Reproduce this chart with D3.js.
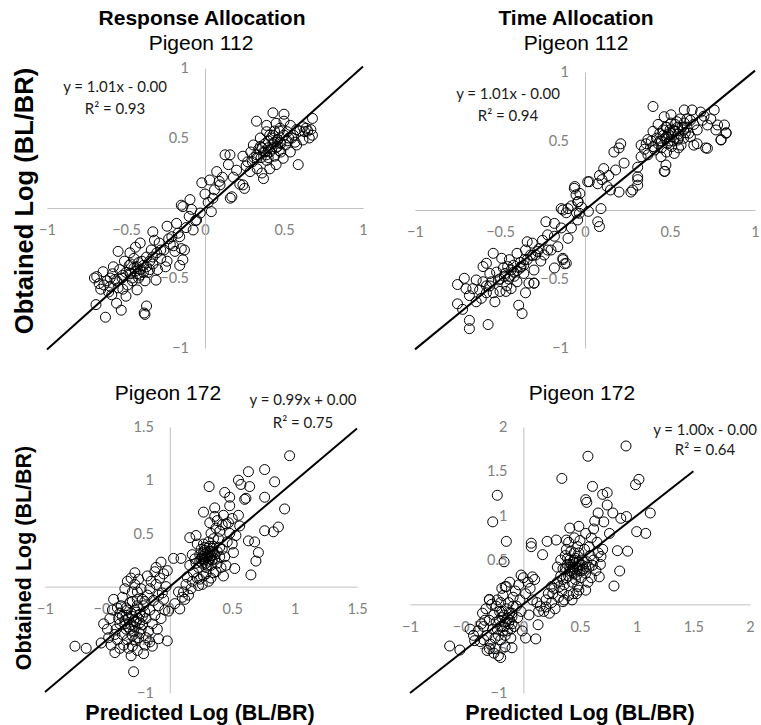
<!DOCTYPE html>
<html>
<head>
<meta charset="utf-8">
<script src="https://cdn.jsdelivr.net/npm/d3@7"></script>
<style>
  body { margin: 0; background: #fff; }
  .tick text { font-family: Lato, "Open Sans", sans-serif; font-size: 14.5px; fill: #808080; }
  .eq { font-family: Lato, "Open Sans", sans-serif; font-size: 15px; fill: #1a1a1a; }
  .title { font-family: "Liberation Sans", Arial, sans-serif; font-size: 21px; fill: #000; }
</style>
</head>
<body>
<div id="chart"></div>
<script>
var svgWidth = 761;
var svgHeight = 725;

// ---- data: [predicted, obtained] ----
var resp112 = [
  [-0.70,-0.50],[-0.69,-0.69],[-0.685,-0.49],[-0.67,-0.54],[-0.66,-0.58],[-0.645,-0.455],[-0.63,-0.78],[-0.62,-0.52],
  [-0.61,-0.60],[-0.60,-0.56],[-0.59,-0.62],[-0.585,-0.47],[-0.57,-0.51],[-0.56,-0.68],[-0.55,-0.31],[-0.55,-0.57],
  [-0.54,-0.44],[-0.53,-0.73],[-0.525,-0.50],[-0.51,-0.38],[-0.50,-0.63],[-0.50,-0.46],[-0.49,-0.55],[-0.48,-0.41],
  [-0.475,-0.32],[-0.475,-0.465],[-0.46,-0.52],[-0.45,-0.36],[-0.44,-0.28],[-0.44,-0.45],[-0.43,-0.585],[-0.43,-0.42],
  [-0.42,-0.50],[-0.41,-0.25],[-0.41,-0.48],[-0.40,-0.38],[-0.39,-0.41],[-0.385,-0.75],[-0.38,-0.76],[-0.37,-0.70],
  [-0.37,-0.35],[-0.36,-0.46],[-0.35,-0.44],[-0.34,-0.30],[-0.33,-0.17],[-0.33,-0.40],[-0.32,-0.23],[-0.31,-0.515],
  [-0.305,-0.32],[-0.30,-0.44],[-0.29,-0.25],[-0.28,-0.36],[-0.26,-0.30],[-0.25,-0.42],[-0.24,-0.13],[-0.24,-0.38],
  [-0.23,-0.22],[-0.21,-0.205],[-0.20,-0.27],[-0.19,-0.31],[-0.18,-0.11],[-0.17,-0.18],[-0.16,-0.205],[-0.16,-0.41],
  [-0.15,-0.29],[-0.14,-0.37],[-0.14,0.01],[-0.13,-0.30],[-0.12,-0.14],[-0.10,-0.06],[-0.095,0.06],[-0.085,-0.01],
  [-0.075,-0.157],[-0.06,-0.09],[-0.053,-0.086],[-0.03,-0.036],[-0.15,0.02],[-0.58,-0.42],[-0.52,-0.58],[-0.47,-0.40],
  [-0.47,-0.47],[-0.45,-0.43],[-0.43,-0.47],[-0.41,-0.44],[-0.39,-0.46],[-0.37,-0.42],[-0.35,-0.38],[-0.42,-0.39],
  [-0.46,-0.50],[-0.52,-0.48],[-0.56,-0.52],[-0.60,-0.50],[-0.64,-0.55],[-0.38,-0.52],[-0.33,-0.35],[-0.28,-0.30],
  [-0.22,-0.26],
  [-0.02,0.18],[0.00,0.10],[0.02,0.04],[0.03,0.20],[0.04,-0.026],[0.05,0.07],[0.06,0.13],[0.074,0.26],[0.09,0.19],
  [0.095,0.165],[0.11,0.22],[0.127,0.38],[0.148,0.31],[0.158,0.38],[0.16,0.07],[0.17,0.08],[0.18,0.22],[0.20,0.27],
  [0.22,0.17],[0.24,0.165],[0.24,0.37],[0.25,0.14],[0.26,0.30],[0.27,0.33],[0.285,0.26],[0.29,0.40],[0.30,0.33],
  [0.306,0.45],[0.31,0.36],[0.326,0.62],[0.327,0.38],[0.33,0.28],[0.34,0.42],[0.35,0.50],[0.355,0.36],[0.36,0.25],
  [0.37,0.21],[0.37,0.40],[0.38,0.46],[0.39,0.545],[0.39,0.34],[0.39,0.59],[0.40,0.43],[0.41,0.28],[0.41,0.40],
  [0.42,0.50],[0.43,0.52],[0.43,0.68],[0.43,0.46],[0.44,0.37],[0.45,0.31],[0.45,0.43],[0.45,0.605],[0.46,0.49],
  [0.475,0.57],[0.475,0.47],[0.48,0.40],[0.495,0.355],[0.50,0.62],[0.50,0.67],[0.51,0.45],[0.52,0.545],[0.53,0.50],
  [0.54,0.40],[0.54,0.59],[0.56,0.52],[0.57,0.47],[0.58,0.45],[0.59,0.31],[0.60,0.55],[0.62,0.486],[0.63,0.545],
  [0.64,0.57],[0.66,0.50],[0.67,0.56],[0.68,0.64],[0.68,0.52],[0.35,0.44],[0.40,0.36],[0.47,0.41],
  [0.38,0.40],[0.40,0.48],[0.42,0.42],[0.44,0.47],[0.46,0.44],[0.48,0.46],[0.41,0.52],[0.36,0.43],[0.33,0.36],
  [0.50,0.52],[0.52,0.48],[0.55,0.50],[0.47,0.55],[0.44,0.55],[0.39,0.38],[0.58,0.56],[0.62,0.58],[0.65,0.55]
];

var time112 = [
  [0.40,0.75],[-0.68,-0.80],[-0.68,-0.86],[-0.57,-0.83],[-0.39,-0.69],[-0.37,-0.75],[-0.75,-0.68],[-0.72,-0.72],
  [0.075,-0.085],[0.085,-0.12],[0.094,0.01],[-0.23,-0.085],[-0.18,-0.19],[-0.13,-0.36],[-0.12,-0.39],[-0.18,-0.42],
  [-0.30,-0.53],[0.21,0.48],[0.20,0.45],[0.80,0.51],[0.83,0.56],[0.71,0.45],[0.64,0.47],[0.47,0.28],[0.31,0.22],
  [0.27,0.13],[0.20,0.13],[0.025,0.205],[-0.06,0.17],[-0.04,0.06],[-0.14,0.01],[-0.11,-0.02],
  [0.17,0.42],[0.11,0.30],[0.085,0.25],[0.075,0.19],[0.13,0.17],[0.15,0.145],[0.28,0.145],[0.31,0.18],[0.31,0.24],
  [0.23,0.34],[0.18,0.29],[0.14,0.25],[0.10,0.22],[0.33,0.386],[0.33,0.47],[0.37,0.51],[0.40,0.57],[0.44,0.556],
  [0.476,0.60],[0.506,0.69],[0.584,0.725],[0.63,0.725],[0.68,0.71],[0.76,0.725],[0.72,0.616],[0.78,0.616],
  [0.82,0.616],[0.83,0.556],[0.80,0.507],[0.72,0.447],[0.66,0.48],[0.565,0.47],[0.525,0.41],[0.476,0.326],
  [0.466,0.28],[0.447,0.386],[0.41,0.435],[0.37,0.40],[0.31,0.31],[0.506,0.556],[0.545,0.60],[0.584,0.63],
  [0.545,0.507],[0.486,0.48],[0.43,0.48],[0.61,0.556],[0.66,0.58],[0.69,0.65],[0.466,0.676],[0.506,0.63],
  [0.35,0.44],[0.39,0.50],[0.42,0.52],[0.45,0.45],[0.48,0.53],[0.50,0.50],[0.52,0.58],[0.55,0.55],[0.58,0.52],
  [0.60,0.60],[0.62,0.65],[0.56,0.66],[0.53,0.62],[0.46,0.58],[0.43,0.62],[0.40,0.46],[0.36,0.48],[0.48,0.42],
  [0.51,0.46],[0.58,0.58],[0.64,0.62],[0.70,0.68],[0.74,0.66],[0.77,0.58],[0.55,0.45],[0.62,0.53],[0.44,0.50],
  [0.45,0.50],[0.47,0.52],[0.49,0.55],[0.51,0.53],[0.53,0.57],[0.55,0.52],[0.57,0.60],[0.59,0.56],[0.50,0.58],
  [0.46,0.54],[0.52,0.50],[0.54,0.64],[0.60,0.66],[0.48,0.60],
  [-0.063,0.157],[-0.053,0.11],[-0.043,0.06],[0.016,0.205],[-0.13,0.0],[-0.10,0.01],[-0.033,-0.024],[-0.18,-0.097],
  [-0.14,-0.13],[-0.08,-0.13],[-0.043,-0.072],[-0.10,-0.205],[-0.16,-0.266],[-0.20,-0.29],[-0.22,-0.29],[-0.13,-0.35],
  [-0.11,-0.386],[-0.34,-0.23],[-0.31,-0.24],[-0.29,-0.326],[-0.35,-0.29],[-0.40,-0.314],[-0.445,-0.36],[-0.49,-0.35],
  [-0.54,-0.314],[-0.58,-0.386],[-0.60,-0.41],[-0.56,-0.46],[-0.435,-0.435],[-0.376,-0.41],[-0.30,-0.435],
  [-0.30,-0.53],[-0.35,-0.60],[-0.75,-0.54],[-0.71,-0.495],[-0.70,-0.57],[-0.66,-0.57],[-0.64,-0.507],[-0.62,-0.58],
  [-0.58,-0.60],[-0.61,-0.64],[-0.54,-0.60],[-0.50,-0.59],[-0.465,-0.59],[-0.435,-0.57],[-0.51,-0.507],[-0.475,-0.48],
  [-0.416,-0.48],[-0.455,-0.41],[-0.357,-0.36],[-0.24,-0.326],[-0.26,-0.37],[-0.32,-0.326],[-0.33,-0.53],[-0.53,-0.665],
  [-0.64,-0.665],[-0.38,-0.38],[-0.42,-0.45],[-0.48,-0.42],[-0.52,-0.45],[-0.45,-0.50],[-0.40,-0.52],[-0.36,-0.46],
  [-0.27,-0.28],[-0.25,-0.22],[-0.22,-0.18],[-0.05,-0.02],[-0.02,0.02],[0.02,-0.01],[-0.08,0.03],[-0.03,0.12],
  [-0.68,-0.62],[-0.56,-0.55],[-0.60,-0.52],
  [-0.50,-0.50],[-0.47,-0.46],[-0.44,-0.48],[-0.42,-0.40],[-0.40,-0.44],[-0.38,-0.42],[-0.36,-0.40],[-0.34,-0.36],
  [-0.55,-0.52],[-0.58,-0.55],[-0.46,-0.55],[-0.31,-0.33],[-0.28,-0.30]
];

var resp172 = [
  [0.96,1.23],[0.76,1.10],[0.84,0.985],[0.63,1.08],[0.55,1.00],[0.57,0.96],[0.64,0.94],[0.315,0.94],[0.44,0.885],
  [0.48,0.84],[0.60,0.82],[0.61,0.83],[0.76,0.84],[0.48,0.76],[0.92,0.73],[0.36,0.74],[0.43,0.67],[0.55,0.67],
  [0.27,0.70],[0.32,0.60],[0.45,0.59],[0.56,0.57],[0.76,0.525],[0.83,0.515],[0.87,0.56],[0.63,0.43],[0.68,0.42],
  [0.71,0.32],[0.69,0.24],[0.52,0.17],[0.65,0.11],[0.40,0.37],[0.51,0.32],[0.16,0.46],[0.21,0.48],[0.03,0.265],
  [0.09,0.265],[-0.07,0.23],[-0.11,0.18],[-0.28,0.13],[-0.76,-0.56],[-0.67,-0.58],[-0.55,-0.53],[-0.49,-0.48],
  [-0.44,-0.62],[-0.31,-0.65],[-0.29,-0.80],[-0.21,-0.63],[-0.02,-0.51],[-0.09,-0.49],[-0.16,-0.52],[0.08,-0.21],
  [0.04,-0.16],[0.12,-0.12],[-0.01,-0.23],[-0.05,-0.12],[0.11,-0.05],[0.13,0.02],[0.23,0.01],[0.27,0.10],
  [0.35,0.13],[0.19,0.13],[0.20,0.26],
  [0.22,0.40],[0.25,0.35],[0.28,0.30],[0.30,0.28],[0.32,0.33],[0.34,0.25],[0.26,0.22],[0.29,0.18],[0.33,0.20],
  [0.36,0.30],[0.38,0.22],[0.24,0.30],[0.27,0.40],[0.31,0.42],[0.35,0.38],[0.39,0.45],[0.42,0.35],[0.44,0.28],
  [0.46,0.42],[0.48,0.50],[0.50,0.40],[0.53,0.48],[0.40,0.52],[0.37,0.55],[0.33,0.50],[0.30,0.36],[0.28,0.25],
  [0.23,0.18],[0.21,0.22],[0.18,0.30],[0.16,0.20],[0.14,0.09],[0.24,0.07],[0.31,0.05],[0.29,0.12],[0.37,0.14],
  [0.41,0.18],[0.43,0.10],[0.33,0.08],[0.26,0.02],[0.22,0.08],[0.18,0.05],[0.17,-0.02],[0.15,-0.08],[0.10,-0.10],
  [0.07,-0.05],[0.35,0.45],[0.45,0.20],[0.40,0.28],[0.27,0.32],[0.34,0.33],[0.30,0.20],[0.38,0.62],[0.42,0.58],
  [0.47,0.60],[0.50,0.64],[0.36,0.66],
  [0.26,0.28],[0.28,0.34],[0.29,0.27],[0.31,0.30],[0.32,0.26],[0.33,0.29],[0.30,0.32],[0.27,0.26],[0.35,0.32],
  [0.31,0.24],[0.29,0.22],[0.25,0.26],[0.34,0.36],[0.36,0.26],[0.28,0.37],[0.38,0.33],[0.24,0.24],[0.32,0.38],
  [-0.45,-0.12],[-0.42,-0.20],[-0.40,-0.25],[-0.38,-0.10],[-0.36,-0.32],[-0.35,-0.20],[-0.33,-0.38],[-0.32,-0.15],
  [-0.30,-0.28],[-0.30,-0.05],[-0.29,-0.42],[-0.28,-0.22],[-0.27,-0.33],[-0.26,-0.12],[-0.25,-0.48],[-0.24,-0.26],
  [-0.23,-0.02],[-0.22,-0.36],[-0.21,-0.18],[-0.20,-0.55],[-0.19,-0.30],[-0.18,-0.08],[-0.17,-0.42],[-0.16,-0.22],
  [-0.15,0.05],[-0.14,-0.35],[-0.13,-0.13],[-0.12,-0.27],[-0.11,0.02],[-0.10,-0.40],[-0.09,-0.18],[-0.08,0.08],
  [-0.07,-0.30],[-0.06,-0.06],[-0.05,0.12],[-0.04,-0.22],[-0.03,0.00],[-0.02,0.15],[-0.34,0.05],[-0.31,0.08],
  [-0.36,-0.02],[-0.40,-0.35],[-0.43,-0.40],[-0.38,-0.45],[-0.34,-0.50],[-0.30,-0.56],[-0.26,-0.60],[-0.33,-0.58],
  [-0.37,-0.55],[-0.48,-0.30],[-0.46,-0.22],[-0.44,-0.45],[-0.50,-0.40],[-0.53,-0.35],[-0.28,-0.50],[-0.24,-0.44],
  [-0.19,-0.48],[-0.14,-0.56],[-0.22,-0.12],[-0.26,-0.18],[-0.31,-0.36],[-0.35,-0.27],[-0.39,-0.18],[-0.28,0.02],
  [-0.25,0.07],[-0.18,0.10],[-0.12,0.14],[-0.09,-0.08],[-0.16,-0.02],[-0.20,-0.24],[-0.35,-0.40],[-0.42,-0.50],
  [-0.47,-0.55],[-0.40,-0.58],[-0.30,-0.46],
  [-0.33,-0.30],[-0.31,-0.25],[-0.29,-0.32],[-0.27,-0.24],[-0.25,-0.30],[-0.34,-0.22],[-0.32,-0.40],[-0.28,-0.38],
  [-0.24,-0.34],[-0.22,-0.28],[-0.36,-0.35],[-0.30,-0.14],[-0.26,-0.05],[-0.38,-0.28],[-0.41,-0.30],[-0.23,-0.40],
  [-0.20,-0.14]
];

var time172 = [
  [0.906,1.786],[0.57,1.67],[0.34,1.42],[1.02,1.41],[0.99,1.35],[0.61,1.33],[0.70,1.24],[0.74,1.26],[0.55,1.18],
  [0.56,1.15],[0.74,1.12],[-0.23,1.23],[-0.27,0.93],[-0.15,0.71],[-0.17,0.48],[-0.16,0.20],[-0.30,0.056],
  [0.66,1.03],[0.79,1.03],[0.86,0.97],[0.91,0.99],[1.12,1.03],[1.00,0.82],[1.08,0.80],[0.83,0.605],[0.92,0.60],
  [0.85,0.376],[0.80,0.207],[0.685,0.54],[0.76,0.80],[0.71,0.93],[0.63,0.94],[0.49,0.88],[0.41,0.86],[0.29,0.725],
  [0.21,0.71],[0.07,0.69],[0.07,0.65],[0.17,0.56],[-0.02,0.33],[0.08,0.31],[0.02,-0.38],[0.11,-0.39],[0.13,-0.23],
  [-0.65,-0.47],[-0.56,-0.515],[-0.43,-0.41],[-0.20,-0.60],[-0.10,-0.49],[-0.30,-0.50],[0.135,-0.08],[0.23,-0.10],
  [0.20,-0.03],[0.26,0.12],[0.32,0.20],[0.67,0.31],[0.61,0.44],[0.49,0.16],[0.35,0.03],[0.44,0.12],[0.55,0.16],
  [0.58,0.65],[0.38,0.725],
  [0.20,0.05],[0.22,0.12],[0.25,0.02],[0.27,0.18],[0.28,-0.05],[0.30,0.25],[0.31,0.08],[0.33,0.32],[0.34,0.15],
  [0.35,0.40],[0.36,0.22],[0.37,0.55],[0.38,0.30],[0.39,0.45],[0.40,0.10],[0.41,0.38],[0.42,0.60],[0.43,0.25],
  [0.44,0.48],[0.45,0.35],[0.46,0.52],[0.47,0.42],[0.48,0.20],[0.49,0.58],[0.50,0.45],[0.51,0.30],[0.52,0.50],
  [0.53,0.40],[0.54,0.62],[0.55,0.35],[0.56,0.48],[0.57,0.25],[0.58,0.42],[0.59,0.55],[0.60,0.30],[0.62,0.50],
  [0.64,0.38],[0.66,0.58],[0.68,0.45],[0.70,0.62],[0.40,0.70],[0.45,0.75],[0.50,0.72],[0.55,0.80],[0.33,0.50],
  [0.30,0.42],[0.36,0.05],[0.43,0.05],[0.47,0.12],[0.38,0.62],[0.48,0.65],[0.44,0.40],[0.52,0.38],[0.41,0.50],
  [0.46,0.28],[0.35,0.28],[0.25,0.20],[0.60,0.75],[0.65,0.70],[0.62,0.85],
  [0.42,0.45],[0.44,0.42],[0.46,0.46],[0.48,0.40],[0.45,0.50],[0.43,0.36],[0.47,0.33],[0.50,0.38],[0.49,0.48],
  [0.41,0.42],[0.40,0.32],[0.52,0.44],[0.39,0.52],[0.37,0.40],[0.55,0.42],[0.45,0.58],
  [-0.40,-0.30],[-0.38,-0.42],[-0.36,-0.10],[-0.35,-0.25],[-0.33,-0.05],[-0.32,-0.35],[-0.30,-0.18],[-0.29,-0.45],
  [-0.28,0.00],[-0.27,-0.28],[-0.26,-0.12],[-0.25,-0.50],[-0.24,-0.20],[-0.23,0.05],[-0.22,-0.35],[-0.21,-0.08],
  [-0.20,-0.40],[-0.19,-0.15],[-0.18,0.10],[-0.17,-0.25],[-0.16,-0.48],[-0.15,-0.05],[-0.14,-0.30],[-0.13,0.02],
  [-0.12,-0.18],[-0.11,-0.38],[-0.10,-0.10],[-0.09,0.08],[-0.08,-0.25],[-0.07,0.15],[-0.06,-0.02],[-0.05,-0.15],
  [-0.04,0.22],[-0.03,0.05],[-0.02,-0.08],[0.00,0.30],[0.02,0.12],[0.04,0.25],[0.06,0.18],[0.08,0.05],[0.10,0.28],
  [0.12,0.02],[0.05,-0.12],[-0.01,-0.30],[-0.26,-0.55],[-0.32,-0.52],[-0.22,-0.58],[-0.35,-0.40],[-0.24,-0.02],
  [-0.19,0.18],[-0.15,0.20],[-0.12,0.25],[-0.30,0.05],[-0.34,-0.18],[-0.37,-0.22],[-0.44,-0.35],[-0.47,-0.28],
  [-0.20,-0.25],[-0.10,-0.22],[-0.16,-0.35],[0.15,-0.02],[0.18,-0.08],
  [-0.17,-0.12],[-0.14,-0.16],[-0.12,-0.10],[-0.16,-0.20],[-0.19,-0.08],[-0.13,-0.22],[-0.10,-0.14],[-0.21,-0.18],
  [-0.18,-0.30],[-0.09,-0.02],[-0.23,-0.28],[-0.11,-0.28],[-0.25,-0.38],[-0.20,0.02]
];

// trendlines: slope, intercept, x extent
var slopes = [1.01, 1.01, 0.99, 1.00];
var intercepts = [0, 0, 0, 0];
var trendEnds = [[-1, 1], [-1, 1], [-1, 1.5], [-1, 1.5]];
var eqLabels = ["y = 1.01x - 0.00", "y = 1.01x - 0.00", "y = 0.99x + 0.00", "y = 1.00x - 0.00"];
var r2Labels = ["R\u00b2 = 0.93", "R\u00b2 = 0.94", "R\u00b2 = 0.75", "R\u00b2 = 0.64"];
var xTicksTop = [-1, -0.5, 0, 0.5, 1];
var yTicksTop = [-1, -0.5, 0.5, 1];
var xTicks3 = [-1, -0.5, 0, 0.5, 1, 1.5];
var yTicks3 = [-1, -0.5, 0.5, 1, 1.5];
var xTicks4 = [-1, -0.5, 0, 0.5, 1, 1.5, 2];
var yTicks4 = [-1, -0.5, 0.5, 1, 1.5, 2];

// layout for each panel
var panels = [
  { data: resp112, xd: [-1, 1], xr: [47, 363], yd: [-1, 1], yr: [348, 68], xt: xTicksTop, yt: yTicksTop,
    eq: [115, 92, 114] },
  { data: time112, xd: [-1, 1], xr: [415, 755], yd: [-1, 1], yr: [348, 72], xt: xTicksTop, yt: yTicksTop,
    eq: [508, 99, 121] },
  { data: resp172, xd: [-1, 1.5], xr: [45, 357], yd: [-1, 1.5], yr: [693, 427], xt: xTicks3, yt: yTicks3,
    eq: [303, 405, 428] },
  { data: time172, xd: [-1, 2], xr: [410, 750], yd: [-1, 2], yr: [693, 427], xt: xTicks4, yt: yTicks4,
    eq: [705, 435, 455] }
];

var svg = d3.select("#chart")
  .append("svg")
  .attr("width", svgWidth)
  .attr("height", svgHeight);

panels.forEach(function(p, i) {
  var x = d3.scaleLinear().domain(p.xd).range(p.xr);
  var y = d3.scaleLinear().domain(p.yd).range(p.yr);
  var g = svg.append("g");

  // axes cross at zero
  var xAxis = g.append("g")
    .attr("transform", `translate(0, ${y(0)})`)
    .call(d3.axisBottom(x).tickValues(p.xt).tickSize(0).tickPadding(17).tickFormat(d3.format("")));
  var yAxis = g.append("g")
    .attr("transform", `translate(${x(0)}, 0)`)
    .call(d3.axisLeft(y).tickValues(p.yt).tickSize(0).tickPadding(16).tickFormat(d3.format("")));
  [xAxis, yAxis].forEach(function(a) {
    a.select(".domain").attr("stroke", "#c0c0c0").attr("stroke-width", 1);
    a.attr("font-family", null).attr("font-size", null);
  });

  // points
  g.append("g").selectAll("circle")
    .data(p.data)
    .enter()
    .append("circle")
    .attr("cx", d => x(d[0]))
    .attr("cy", d => y(d[1]))
    .attr("r", 5)
    .attr("fill", "none")
    .attr("stroke", "#000")
    .attr("stroke-width", 1);

  // linear trendline
  var ends = trendEnds[i];
  g.append("line")
    .attr("x1", x(ends[0]))
    .attr("y1", y(slopes[i] * ends[0] + intercepts[i]))
    .attr("x2", x(ends[1]))
    .attr("y2", y(slopes[i] * ends[1] + intercepts[i]))
    .attr("stroke", "#000")
    .attr("stroke-width", 2);

  g.append("text").attr("class", "eq").attr("text-anchor", "middle")
    .attr("x", p.eq[0]).attr("y", p.eq[1]).text(eqLabels[i]);
  g.append("text").attr("class", "eq").attr("text-anchor", "middle")
    .attr("x", p.eq[0]).attr("y", p.eq[2]).text(r2Labels[i]);
});

// titles
svg.append("text").attr("class", "title").attr("font-weight", "bold").attr("text-anchor", "middle")
  .attr("x", 202).attr("y", 25).text("Response Allocation");
svg.append("text").attr("class", "title").attr("text-anchor", "middle")
  .attr("x", 201).attr("y", 50).text("Pigeon 112");
svg.append("text").attr("class", "title").attr("font-weight", "bold").attr("text-anchor", "middle")
  .attr("x", 576).attr("y", 25).text("Time Allocation");
svg.append("text").attr("class", "title").attr("text-anchor", "middle")
  .attr("x", 576).attr("y", 50).text("Pigeon 112");
svg.append("text").attr("class", "title").attr("text-anchor", "middle")
  .attr("x", 168).attr("y", 400).text("Pigeon 172");
svg.append("text").attr("class", "title").attr("text-anchor", "middle")
  .attr("x", 582).attr("y", 400).text("Pigeon 172");

// axis titles
svg.append("text").attr("class", "title").attr("font-weight", "bold").attr("text-anchor", "middle")
  .attr("transform", "translate(33, 201) rotate(-90)")
  .style("font-size", "25.5px")
  .text("Obtained Log (BL/BR)");
svg.append("text").attr("class", "title").attr("font-weight", "bold").attr("text-anchor", "middle")
  .attr("transform", "translate(31, 558) rotate(-90)")
  .style("font-size", "21.5px")
  .text("Obtained Log (BL/BR)");
svg.append("text").attr("class", "title").attr("font-weight", "bold").attr("text-anchor", "middle")
  .attr("x", 200).attr("y", 720).style("font-size", "21.5px").text("Predicted Log (BL/BR)");
svg.append("text").attr("class", "title").attr("font-weight", "bold").attr("text-anchor", "middle")
  .attr("x", 580).attr("y", 720).style("font-size", "21.5px").text("Predicted Log (BL/BR)");
</script>
</body>
</html>
